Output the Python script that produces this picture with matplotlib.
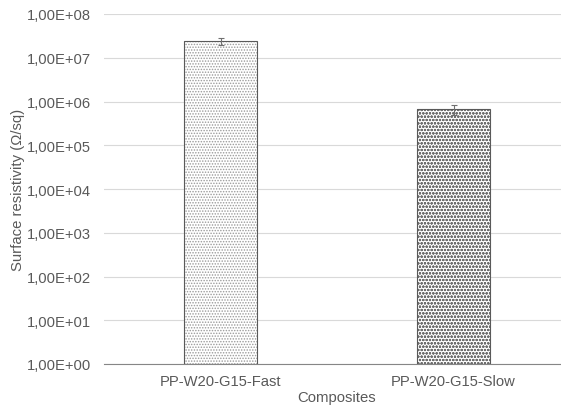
import matplotlib
matplotlib.use('Agg')
import matplotlib.pyplot as plt
import numpy as np

categories = ['PP-W20-G15-Fast', 'PP-W20-G15-Slow']
resistivity = [2.4e7, 6.7e5]
errors = [4.5e6, 1.8e5]
yticks = [1e0, 1e1, 1e2, 1e3, 1e4, 1e5, 1e6, 1e7, 1e8]
ytick_labels = ['1,00E+00', '1,00E+01', '1,00E+02', '1,00E+03', '1,00E+04',
                '1,00E+05', '1,00E+06', '1,00E+07', '1,00E+08']

plt.rcParams['font.family'] = ['Liberation Sans', 'DejaVu Sans']
plt.rcParams['hatch.linewidth'] = 0.7

fig = plt.figure(figsize=(5.61, 4.10), dpi=100)
ax = fig.add_axes([104 / 561, 1 - 365 / 410, 466 / 561, 350 / 410])

xs = np.arange(len(categories))
w = 0.313
hatches = ['......', 'ooooo']
hcols = ['#9a9a9a', '#6e6e6e']
for x, v, h, hc in zip(xs, resistivity, hatches, hcols):
    ax.bar(x, v, width=w, bottom=1, color='white', edgecolor=hc, hatch=h,
           linewidth=0, zorder=2)
    ax.bar(x, v, width=w, bottom=1, color='none', edgecolor='#595959',
           linewidth=0.8, zorder=3)
ax.errorbar(xs, resistivity, yerr=errors, fmt='none', ecolor='#707070',
            elinewidth=0.8, capsize=2.5, capthick=0.8, zorder=4)

ax.set_yscale('log')
ax.set_ylim(1, 1e8)
ax.set_xlim(-0.5, 1.5)
ax.set_yticks(yticks)
ax.set_yticklabels(ytick_labels)
ax.minorticks_off()
ax.set_xticks(xs)
ax.set_xticklabels(categories)
ax.tick_params(axis='both', length=0, labelsize=10.6, colors='#595959')
ax.tick_params(axis='y', pad=9.5)
ax.tick_params(axis='x', pad=7)
ax.grid(axis='y', color='#d9d9d9', linewidth=0.8, zorder=0)
ax.set_axisbelow(True)
for s in ['top', 'right', 'left']:
    ax.spines[s].set_visible(False)
ax.spines['bottom'].set_color('#868686')
ax.spines['bottom'].set_linewidth(0.8)

ax.set_xlabel('Composites', fontsize=10.7, color='#595959', labelpad=2)
ax.set_ylabel('Surface resistivity (\u03a9/sq)', fontsize=10.7, color='#595959',
              labelpad=1)

fig.savefig('out.png', dpi=100)
